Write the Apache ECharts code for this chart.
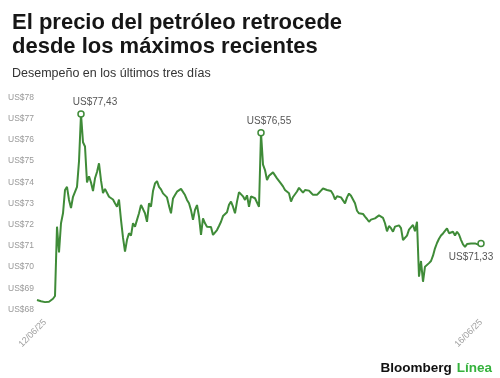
<!DOCTYPE html>
<html lang="es">
<head>
<meta charset="UTF-8">
<script src="https://cdn.jsdelivr.net/npm/echarts@6.0.0/dist/echarts.min.js"></script>
<style>
  html, body { margin: 0; padding: 0; background: #fff; }
  #chart { width: 500px; height: 378px; }
</style>
</head>
<body>
<div id="chart"></div>
<script>
// precio del crudo, 12/06/25 a 16/06/25 (US$)
var prices = [
  68.66, 68.62, 68.60, 68.58, 68.56, 68.56, 68.58, 68.62, 68.72, 68.85,
  72.12, 70.90, 72.28, 72.75, 73.85, 74.00, 73.38, 73.00, 73.53, 73.45,
  74.00, 75.20, 77.43, 76.10, 75.90, 74.20, 74.50, 74.20, 73.80, 74.40,
  74.70, 75.11, 74.30, 73.70, 73.90, 73.85, 73.53,
  73.60, 73.40, 73.22, 73.06, 73.40, 72.44, 71.60, 70.94, 71.50, 71.81,
  71.70, 72.28, 72.12, 72.44, 72.75, 73.14, 72.95, 72.75, 72.35, 73.22,
  73.06, 73.80, 74.16, 74.27, 74.00, 73.88, 73.69, 73.69, 73.50, 73.10,
  72.75, 73.45, 73.61, 73.77, 73.70, 73.90, 73.97,
  73.61, 73.38, 73.22, 72.90, 72.44, 72.91, 73.14, 72.60, 71.73, 72.51,
  72.28, 72.12, 72.20, 72.10, 71.73, 71.81, 71.96, 72.15, 72.35, 72.62,
  72.59, 72.80, 73.15, 73.30, 73.06, 72.75, 73.30, 73.75, 73.80, 73.55,
  73.38, 73.60, 73.06, 73.55, 73.55, 73.46, 73.53, 73.06,
  76.55, 75.05, 74.79, 74.32, 74.52, 74.50, 74.68, 74.70, 74.40, 74.40,
  74.15, 74.02, 73.85, 73.80, 73.70, 73.30, 73.52, 73.61, 73.78, 73.95,
  73.97, 73.72, 73.85, 73.92, 73.82, 73.72, 73.62, 73.53, 73.62, 73.72,
  73.82, 73.92, 73.88, 73.85, 73.86, 73.80, 73.65, 73.40, 73.55, 73.47,
  73.50, 73.52, 73.22, 73.50, 73.68, 73.58, 73.40, 73.22, 72.87, 72.75,
  72.75, 72.72, 72.59, 72.48, 72.35, 72.45, 72.47, 72.51, 72.48, 72.65,
  72.70, 72.53, 72.28, 71.90, 72.15, 72.05, 71.88, 72.12, 72.06, 72.18,
  72.05, 71.49, 71.45, 71.70, 71.98, 71.95, 72.20, 71.90, 72.35, 69.76,
  70.50, 69.52, 70.23, 70.25, 70.40, 70.50, 70.75, 71.10, 71.35, 71.55,
  71.70, 71.80, 71.88, 72.04, 71.81, 71.75, 71.88, 71.70, 71.88, 71.75,
  71.50, 71.28, 71.17, 71.30, 71.27, 71.32, 71.28, 71.33, 71.30, 71.26,
  71.33
];
var dateLabels = ['12/06/25', '16/06/25'];
var dateIdx = [4, prices.length - 1];
var yTicks = [68, 69, 70, 71, 72, 73, 74, 75, 76, 77, 78];
// puntos destacados: maximo del viernes, apertura del domingo, cierre
var highlightIdx = [22, 112, prices.length - 1];

var lineColor = '#3f8b38';

function usd(v) {
  return 'US$' + v.toFixed(2).replace('.', ',');
}

var chart = echarts.init(document.getElementById('chart'));

var labelPos = [
  { position: 'top', distance: 3, offset: [14, 0] },
  { position: 'top', distance: 3, offset: [8, 0] },
  { position: 'bottom', distance: 3, offset: [-10, 2] }
];

var option = {
  animation: false,
  textStyle: { fontFamily: 'Liberation Sans, Arial, sans-serif' },
  title: [
    {
      text: 'El precio del petróleo retrocede\ndesde los máximos recientes',
      left: 12,
      top: 11,
      padding: 0,
      textStyle: { fontSize: 22, fontWeight: 'bold', color: '#161616', lineHeight: 24 }
    },
    {
      text: 'Desempeño en los últimos tres días',
      left: 12,
      top: 67,
      padding: 0,
      textStyle: { fontSize: 12.5, fontWeight: 'normal', color: '#333', lineHeight: 14 }
    },
    {
      text: '{b|Bloomberg} {g|Línea}',
      right: 8,
      top: 359,
      padding: 0,
      textStyle: {
        rich: {
          b: { fontSize: 13.5, fontWeight: 'bold', color: '#111' },
          g: { fontSize: 13.5, fontWeight: 'bold', color: '#35b23d' }
        }
      }
    }
  ],
  grid: { left: 37, right: 19, top: 102, bottom: 64 },
  xAxis: {
    type: 'category',
    boundaryGap: false,
    data: prices.map(function (_, i) { return i; }),
    axisLine: { show: false },
    axisTick: { show: false },
    splitLine: { show: false },
    axisLabel: {
      rotate: 45,
      margin: 7,
      fontSize: 9,
      color: '#a0a0a0',
      interval: function (i) { return dateIdx.indexOf(i) >= 0; },
      formatter: function (v, i) { return dateLabels[dateIdx.indexOf(i)] || ''; }
    }
  },
  yAxis: {
    type: 'value',
    min: yTicks[0],
    max: yTicks[yTicks.length - 1],
    interval: 1,
    axisLine: { show: false },
    axisTick: { show: false },
    splitLine: { show: false },
    axisLabel: {
      margin: 3,
      fontSize: 8.5,
      color: '#999',
      verticalAlign: 'bottom',
      formatter: function (v) { return 'US$' + v; }
    }
  },
  series: [
    {
      type: 'line',
      data: prices,
      showSymbol: false,
      lineStyle: { color: lineColor, width: 2 },
      markPoint: {
        symbol: 'circle',
        symbolSize: 6,
        itemStyle: { color: '#fff', borderColor: lineColor, borderWidth: 1.5 },
        data: highlightIdx.map(function (idx, k) {
          return {
            coord: [idx, prices[idx]],
            value: prices[idx],
            label: {
              show: true,
              position: labelPos[k].position,
              distance: labelPos[k].distance,
              offset: labelPos[k].offset,
              color: '#555',
              fontSize: 10,
              formatter: function (p) { return usd(p.value); }
            }
          };
        })
      }
    }
  ]
};

chart.setOption(option);
</script>
</body>
</html>
